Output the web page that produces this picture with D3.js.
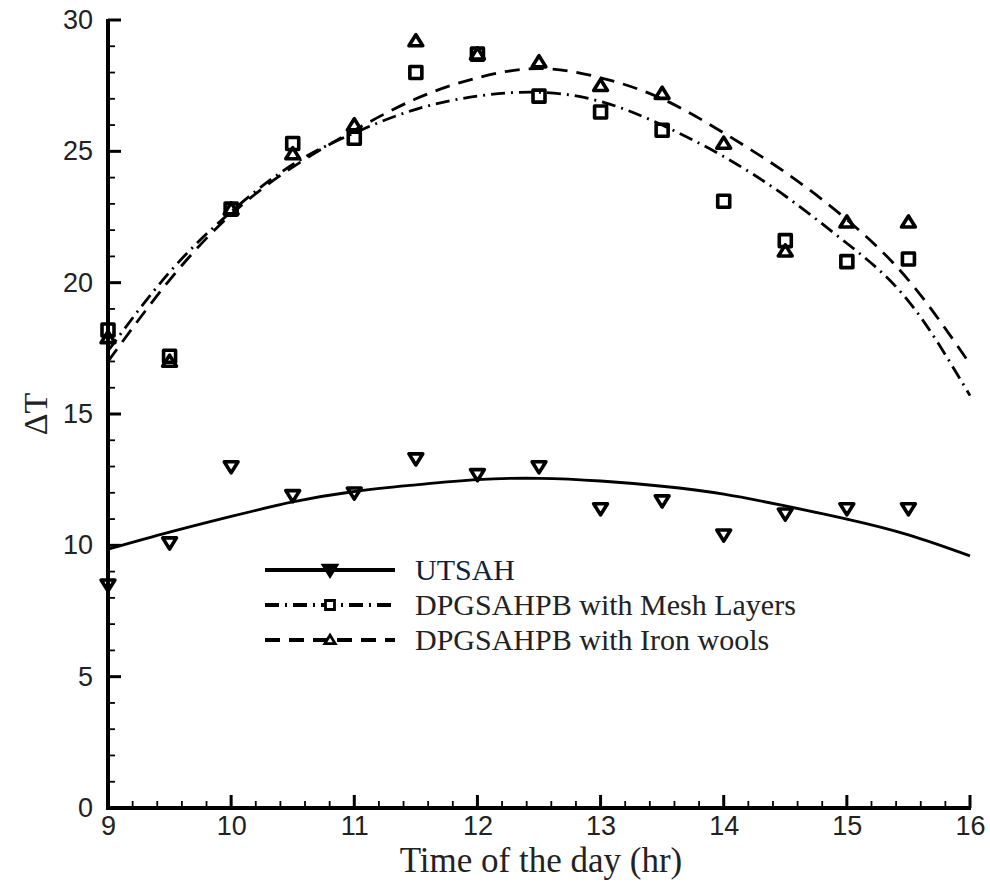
<!DOCTYPE html>
<html><head><meta charset="utf-8">
<script src="https://cdn.jsdelivr.net/npm/d3@7"></script>
<style>body{margin:0;background:#fff}svg{display:block}</style>
</head><body>
<script>
// ---- data ----
const hours = [9, 9.5, 10, 10.5, 11, 11.5, 12, 12.5, 13, 13.5, 14, 14.5, 15, 15.5];
const utsahPts = [8.5, 10.1, 13.0, 11.9, 12.0, 13.3, 12.7, 13.0, 11.4, 11.7, 10.4, 11.2, 11.4, 11.4];
const meshPts  = [18.2, 17.2, 22.8, 25.3, 25.5, 28.0, 28.7, 27.1, 26.5, 25.8, 23.1, 21.6, 20.8, 20.9];
const ironPts  = [17.9, 17.0, 22.8, 24.9, 26.0, 29.2, 28.7, 28.4, 27.5, 27.2, 25.3, 21.2, 22.3, 22.3];

const fitHours = [9, 9.5, 10, 10.5, 11, 11.5, 12, 12.5, 13, 13.5, 14, 14.5, 15, 15.5, 16];
const utsahFit = [9.85, 10.5, 11.1, 11.65, 12.05, 12.3, 12.5, 12.55, 12.45, 12.25, 11.95, 11.5, 11.0, 10.4, 9.6];
const meshFit  = [17.4, 20.4, 22.7, 24.5, 25.7, 26.6, 27.1, 27.25, 26.9, 26.0, 24.8, 23.3, 21.5, 19.3, 15.7];
const ironFit  = [17.0, 20.1, 22.6, 24.4, 25.8, 27.0, 27.8, 28.15, 27.8, 27.0, 25.7, 24.2, 22.4, 20.1, 16.9];

const xTicks = [9, 10, 11, 12, 13, 14, 15, 16];
const yTicks = [0, 5, 10, 15, 20, 25, 30];
const legendLabels = ["UTSAH", "DPGSAHPB with Mesh Layers", "DPGSAHPB with Iron wools"];

// ---- layout ----
const W = 990, H = 882;
const L = 108, R = 970, T = 20, B = 808;
const svg = d3.select("body").append("svg").attr("width", W).attr("height", H);
const x = d3.scaleLinear().domain([9, 16]).range([L, R]);
const y = d3.scaleLinear().domain([0, 30]).range([B, T]);
const ink = "#000";
const sans = "Liberation Sans, Arial, sans-serif";
const serif = "Liberation Serif, Times New Roman, serif";

// minor ticks
const xMinor = d3.range(9, 16.001, 0.2).filter(v => Math.abs(v - Math.round(v)) > 1e-6);
const yMinor = d3.range(0, 30.001, 1).filter(v => v % 5 !== 0);

const gx = svg.append("g").attr("transform", `translate(0,${B})`);
gx.call(d3.axisBottom(x).tickValues(xTicks).tickSize(0).tickPadding(8).tickFormat(d3.format("d")));
gx.select(".domain").remove();
gx.selectAll("text").attr("font-family", sans).attr("font-size", 27).attr("fill", "#222");
gx.selectAll(".maj").data(xTicks).join("line").attr("x1", d => x(d)).attr("x2", d => x(d)).attr("y1", 0).attr("y2", -13).attr("stroke", ink).attr("stroke-width", 3);
gx.selectAll(".min").data(xMinor).join("line").attr("x1", d => x(d)).attr("x2", d => x(d)).attr("y1", 0).attr("y2", -7).attr("stroke", ink).attr("stroke-width", 1.8);

const gy = svg.append("g").attr("transform", `translate(${L},0)`);
gy.call(d3.axisLeft(y).tickValues(yTicks).tickSize(0).tickPadding(15).tickFormat(d3.format("d")));
gy.select(".domain").remove();
gy.selectAll("text").attr("font-family", sans).attr("font-size", 27).attr("fill", "#222");
gy.selectAll(".maj").data(yTicks).join("line").attr("y1", d => y(d)).attr("y2", d => y(d)).attr("x1", 0).attr("x2", 13).attr("stroke", ink).attr("stroke-width", 3);
gy.selectAll(".min").data(yMinor).join("line").attr("y1", d => y(d)).attr("y2", d => y(d)).attr("x1", 0).attr("x2", 7).attr("stroke", ink).attr("stroke-width", 1.8);

// fit curves
const line = d3.line().x(d => x(d[0])).y(d => y(d[1])).curve(d3.curveNatural);
const series = [
  {fit: utsahFit, pts: utsahPts, dash: null, sym: "down"},
  {fit: meshFit, pts: meshPts, dash: "14,6,2,6", sym: "square"},
  {fit: ironFit, pts: ironPts, dash: "15,9", sym: "up"}
];
function symPath(type, s) {
  if (type === "square") return `M${-s},${-s}H${s}V${s}H${-s}Z`;
  if (type === "down") return `M${-s*1.15},${-s*0.8}H${s*1.15}L0,${s*1.05}Z`;
  return `M${-s*1.15},${s*0.8}H${s*1.15}L0,${-s*1.05}Z`;
}
series.forEach(sr => {
  svg.append("path").datum(fitHours.map((h, i) => [h, sr.fit[i]]))
    .attr("d", line).attr("fill", "none").attr("stroke", ink).attr("stroke-width", 2.8)
    .attr("stroke-dasharray", sr.dash);
});
series.forEach(sr => {
  svg.append("g").selectAll("path").data(hours.map((h, i) => [h, sr.pts[i]])).join("path")
    .attr("transform", d => `translate(${x(d[0])},${y(d[1])})`)
    .attr("d", symPath(sr.sym, 6)).attr("fill", "none")
    .attr("stroke", ink).attr("stroke-width", 3.6).attr("stroke-linejoin", "round");
});

// axes lines
svg.append("line").attr("x1", L).attr("x2", L).attr("y1", T - 1).attr("y2", B + 2).attr("stroke", ink).attr("stroke-width", 4);
svg.append("line").attr("x1", L - 2).attr("x2", R + 1).attr("y1", B).attr("y2", B).attr("stroke", ink).attr("stroke-width", 4);

// axis titles
svg.append("text").attr("x", 541).attr("y", 872).attr("text-anchor", "middle")
  .attr("font-family", serif).attr("font-size", 35).attr("fill", "#222")
  .text("Time of the day (hr)");
svg.append("text").attr("transform", `translate(47,${y(15)}) rotate(-90)`).attr("text-anchor", "middle")
  .attr("font-family", serif).attr("font-size", 34).attr("fill", "#222")
  .text("ΔT");

// legend
const lg = svg.append("g");
const legX0 = 265, legX1 = 395, legY = [570, 605, 640];
series.forEach((sr, i) => {
  lg.append("line").attr("x1", legX0).attr("x2", legX1).attr("y1", legY[i]).attr("y2", legY[i])
    .attr("stroke", ink).attr("stroke-width", 3.8).attr("stroke-dasharray", sr.dash);
  lg.append("path").attr("transform", `translate(${(legX0 + legX1) / 2},${legY[i]})`)
    .attr("d", symPath(sr.sym, i === 0 ? 6 : 4.5)).attr("fill", i === 0 ? ink : "#fff").attr("stroke", ink).attr("stroke-width", 2.8);
  lg.append("text").attr("x", 415).attr("y", legY[i] + 10).attr("font-family", serif)
    .attr("font-size", 30).attr("fill", i === 0 ? "#0f1f3d" : "#222").text(legendLabels[i]);
});
</script>
</body></html>
